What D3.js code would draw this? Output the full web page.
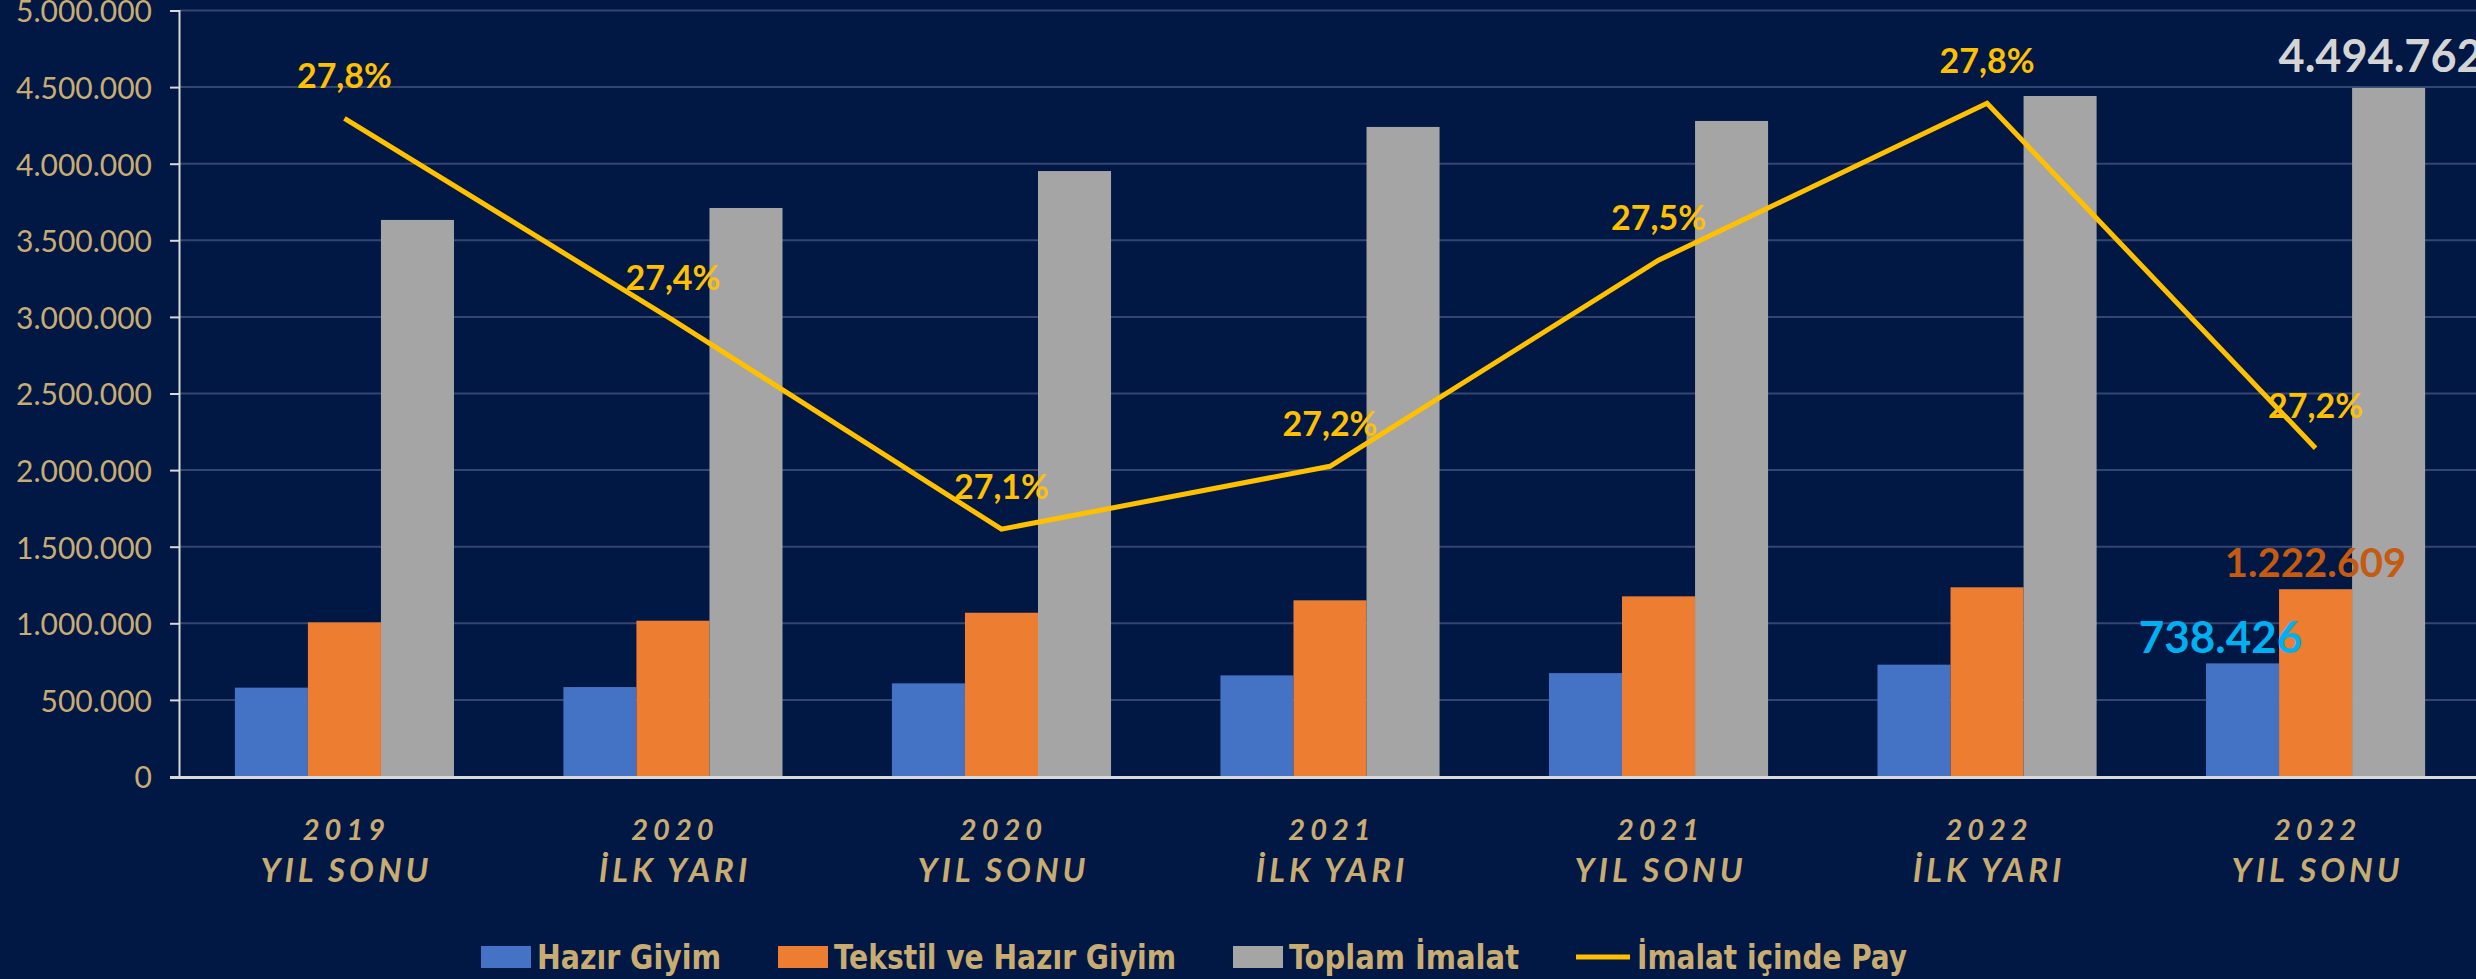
<!DOCTYPE html>
<html>
<head>
<meta charset="utf-8">
<script src="https://cdn.jsdelivr.net/npm/d3@7"></script>
<style>
  body { margin: 0; background: #011744; overflow: hidden; }
  text { font-family: Lato, "Open Sans", sans-serif; }
</style>
</head>
<body>
<svg id="chart"></svg>
<script>
// period labels (two lines each)
var periodYears = ['2019', '2020', '2020', '2021', '2021', '2022', '2022'];
var periodHalves = ['YIL SONU', 'İLK YARI', 'YIL SONU', 'İLK YARI', 'YIL SONU', 'İLK YARI', 'YIL SONU'];

var seriesNames = ['Hazır Giyim', 'Tekstil ve Hazır Giyim', 'Toplam İmalat'];
var lineName = 'İmalat içinde Pay';

var hazirGiyim = [580000, 584000, 608000, 660000, 675000, 730000, 738426];
var tekstilHazirGiyim = [1006000, 1017000, 1069000, 1150000, 1176000, 1235000, 1222609];
var toplamImalat = [3633000, 3711000, 3952000, 4240000, 4279000, 4442000, 4494762];
var imalatPay = [27.786, 27.449, 27.100, 27.205, 27.549, 27.811, 27.235];

var yTicks = [0, 500000, 1000000, 1500000, 2000000, 2500000, 3000000, 3500000, 4000000, 4500000, 5000000];

var W = 2476, H = 979;
var mLeft = 180, mRight = 2480, mTop = 10.5, mBottom = 776.5;
var colors = ['#4472c4', '#ed7d31', '#a5a5a5'];
var lineColor = '#ffc000';
var tan = '#c8ac72';

var tr = d3.formatLocale({decimal: ',', thousands: '.', grouping: [3], currency: ['', '']});
var fmtNum = tr.format(',d');
var fmtPct = tr.format('.1f');

var svg = d3.select('#chart').attr('width', W).attr('height', H);

var x0 = d3.scaleBand().domain(d3.range(periodYears.length)).range([mLeft, mRight])
  .paddingInner(0.333).paddingOuter(0.167);
var x1 = d3.scaleBand().domain(d3.range(seriesNames.length)).range([0, x0.bandwidth()]);
var y = d3.scaleLinear().domain([0, 5000000]).range([mBottom, mTop]);
var y2 = d3.scaleLinear().domain([26.687, 27.966]).range([mBottom, mTop]);

// gridlines
svg.append('g').selectAll('line').data(yTicks.slice(1)).enter().append('line')
  .attr('x1', mLeft).attr('x2', W)
  .attr('y1', function(d) { return y(d); }).attr('y2', function(d) { return y(d); })
  .attr('stroke', '#34466f').attr('stroke-width', 2);

// y axis
var yAxis = d3.axisLeft(y).tickValues(yTicks).tickFormat(fmtNum).tickSizeOuter(0).tickSize(9).tickPadding(18);
var ga = svg.append('g').attr('transform', 'translate(' + (mLeft - 1) + ',0)').call(yAxis);
ga.select('.domain').attr('stroke', '#d9d9d9').attr('stroke-width', 2);
ga.selectAll('.tick line').attr('stroke', '#d9d9d9').attr('stroke-width', 2);
ga.selectAll('.tick text').attr('fill', tan).attr('dy', '0.38em').style('font-size', '30px')
  .style('font-family', 'Lato, sans-serif');

// bars
var seriesData = [hazirGiyim, tekstilHazirGiyim, toplamImalat];
var groups = svg.append('g').selectAll('g').data(periodYears).enter().append('g')
  .attr('transform', function(d, i) { return 'translate(' + x0(i) + ',0)'; });
groups.selectAll('rect').data(function(d, i) {
    return seriesData.map(function(s, k) { return {k: k, v: s[i]}; });
  }).enter().append('rect')
  .attr('x', function(d) { return x1(d.k); })
  .attr('width', x1.bandwidth())
  .attr('y', function(d) { return y(d.v); })
  .attr('height', function(d) { return mBottom - y(d.v); })
  .attr('fill', function(d) { return colors[d.k]; });

// x axis line
svg.append('line').attr('x1', mLeft - 10).attr('x2', W).attr('y1', mBottom + 1).attr('y2', mBottom + 1)
  .attr('stroke', '#d9d9d9').attr('stroke-width', 3);

// category labels
var cx = function(i) { return x0(i) + x0.bandwidth() / 2; };
var cat = svg.append('g').selectAll('g').data(periodYears).enter().append('g');
cat.append('text').attr('x', function(d, i) { return cx(i) + 2; }).attr('y', 840)
  .attr('text-anchor', 'middle').attr('fill', tan)
  .style('font-size', '29px').style('font-weight', 'bold').style('font-style', 'italic')
  .style('letter-spacing', '5px').text(function(d) { return d; });
cat.append('text').attr('x', function(d, i) { return cx(i) + 2; }).attr('y', 882)
  .attr('text-anchor', 'middle').attr('fill', tan)
  .style('font-size', '33px').style('font-weight', 'bold').style('font-style', 'italic')
  .style('letter-spacing', '4px').text(function(d, i) { return periodHalves[i]; });

// share line
var line = d3.line().x(function(d, i) { return cx(i); }).y(function(d) { return y2(d); });
svg.append('path').datum(imalatPay).attr('d', line)
  .attr('fill', 'none').attr('stroke', lineColor).attr('stroke-width', 5);

svg.append('g').selectAll('text').data(imalatPay).enter().append('text')
  .attr('x', function(d, i) { return cx(i); })
  .attr('y', function(d) { return y2(d) - 30; })
  .attr('text-anchor', 'middle').attr('fill', lineColor)
  .style('font-size', '34px').style('font-weight', 'bold')
  .text(function(d) { return fmtPct(d) + '%'; });

// value labels on last period
var last = periodYears.length - 1;
var valueLabels = [
  {k: 0, v: hazirGiyim[last], color: '#00b0f0', size: 44, dx: -22, dy: -10},
  {k: 1, v: tekstilHazirGiyim[last], color: '#c55a11', size: 40, dx: 0, dy: -12},
  {k: 2, v: toplamImalat[last], color: '#d4d4d4', size: 45, dx: -8, dy: -16}
];
svg.append('g').selectAll('text').data(valueLabels).enter().append('text')
  .attr('x', function(d) { return x0(last) + x1(d.k) + x1.bandwidth() / 2 + d.dx; })
  .attr('y', function(d) { return y(d.v) + d.dy; })
  .attr('text-anchor', 'middle').attr('fill', function(d) { return d.color; })
  .style('font-size', function(d) { return d.size + 'px'; }).style('font-weight', 'bold')
  .text(function(d) { return fmtNum(d.v); });

// legend
var legendItems = [
  {name: seriesNames[0], color: colors[0], x: 481, w: 184},
  {name: seriesNames[1], color: colors[1], x: 778, w: 342},
  {name: seriesNames[2], color: colors[2], x: 1233, w: 230},
  {name: lineName, color: lineColor, x: 1576, w: 270, line: true}
];
var lg = svg.append('g').selectAll('g').data(legendItems).enter().append('g')
  .attr('transform', function(d) { return 'translate(' + d.x + ',957)'; });
lg.filter(function(d) { return !d.line; }).append('rect')
  .attr('x', 0).attr('y', -11).attr('width', 50).attr('height', 22).attr('fill', function(d) { return d.color; });
lg.filter(function(d) { return d.line; }).append('line')
  .attr('x1', 0).attr('x2', 54).attr('y1', 0).attr('y2', 0)
  .attr('stroke', lineColor).attr('stroke-width', 5);
lg.append('text').attr('x', function(d) { return d.line ? 61 : 56; }).attr('y', 12)
  .attr('fill', tan).attr('textLength', function(d) { return d.w; }).attr('lengthAdjust', 'spacingAndGlyphs')
  .style('font-size', '34px').style('font-weight', 'bold')
  .style('font-family', '"Liberation Sans Narrow", "DejaVu Sans Condensed", sans-serif')
  .text(function(d) { return d.name; });
</script>
</body>
</html>
